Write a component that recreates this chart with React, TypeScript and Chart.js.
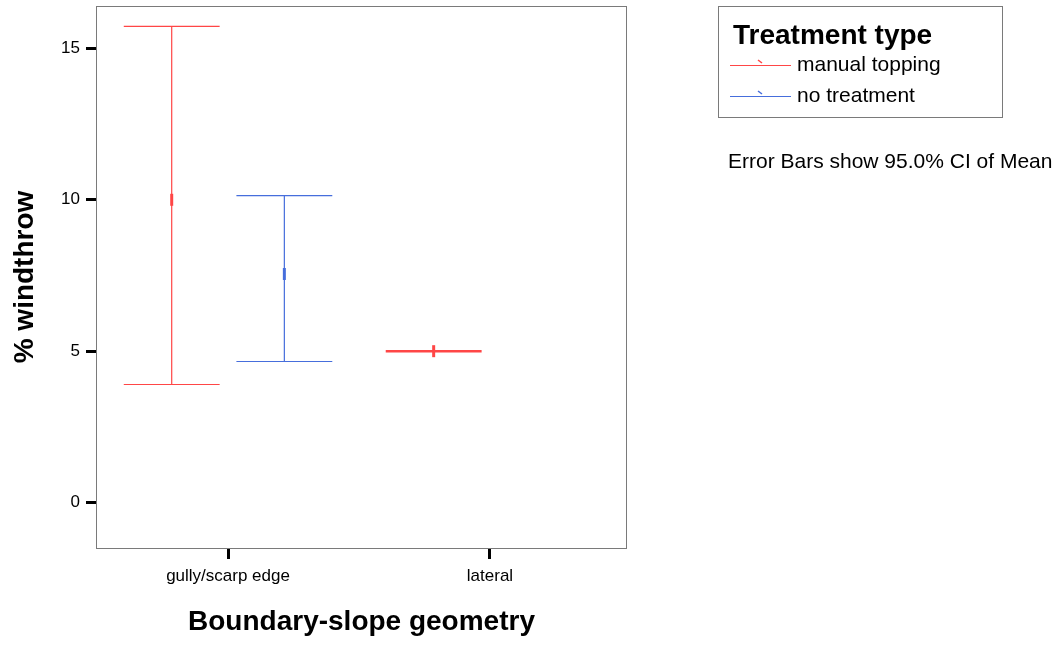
import React, { useEffect, useRef } from "react";
import { Chart, registerables } from "chart.js";

Chart.register(...registerables);

const categories = ["gully/scarp edge", "lateral"];
const seriesNames = ["manual topping", "no treatment"];
const seriesColors = ["rgb(255, 70, 70)", "rgb(70, 110, 220)"];
// per series, per category (null = no data)
const meanValues: (number | null)[][] = [
  [10.0, 5.0],
  [7.55, null],
];
const lowerValues: (number | null)[][] = [
  [3.9, 5.0],
  [4.66, null],
];
const upperValues: (number | null)[][] = [
  [15.73, 5.0],
  [10.14, null],
];
const yTicks = [0, 5, 10, 15];
const seriesOffsets = [-0.215, 0.215];
const capHalfWidth = 0.183;

const FONT = "'Liberation Sans', Arial, sans-serif";

export default function App() {
  const ref = useRef<HTMLCanvasElement | null>(null);

  useEffect(() => {
    if (!ref.current) return;

    const errorBarPlugin = {
      id: "errorBars",
      beforeDatasetsDraw(chart: any) {
        const { ctx, scales } = chart;
        const xs = scales.x;
        const ys = scales.y;
        ctx.save();
        seriesNames.forEach((_, s) => {
          categories.forEach((_c, ci) => {
            const lo = lowerValues[s][ci];
            const hi = upperValues[s][ci];
            if (lo == null || hi == null) return;
            const xc = xs.getPixelForValue(ci + seriesOffsets[s]);
            const xl = xs.getPixelForValue(ci + seriesOffsets[s] - capHalfWidth);
            const xr = xs.getPixelForValue(ci + seriesOffsets[s] + capHalfWidth);
            const yl = ys.getPixelForValue(lo);
            const yh = ys.getPixelForValue(hi);
            ctx.strokeStyle = seriesColors[s];
            ctx.lineWidth = hi - lo === 0 ? 2.5 : 1.2;
            ctx.beginPath();
            ctx.moveTo(xc, yl);
            ctx.lineTo(xc, yh);
            ctx.moveTo(xl, yh);
            ctx.lineTo(xr, yh);
            ctx.moveTo(xl, yl);
            ctx.lineTo(xr, yl);
            ctx.stroke();
          });
        });
        ctx.restore();
      },
      afterDraw(chart: any) {
        const { ctx, chartArea } = chart;
        ctx.save();
        // plot frame
        ctx.strokeStyle = "#7a7a7a";
        ctx.lineWidth = 1;
        ctx.strokeRect(
          Math.round(chartArea.left) + 0.5,
          Math.round(chartArea.top) + 0.5,
          Math.round(chartArea.right - chartArea.left) - 1,
          Math.round(chartArea.bottom - chartArea.top)
        );
        // legend box
        ctx.strokeRect(718.5, 6.5, 284, 111);
        ctx.fillStyle = "#000";
        ctx.textBaseline = "middle";
        ctx.textAlign = "left";
        ctx.font = `bold 28px ${FONT}`;
        ctx.fillText("Treatment type", 733, 36);
        const rows = [65, 96];
        seriesNames.forEach((name, s) => {
          const y = rows[s];
          ctx.strokeStyle = seriesColors[s];
          ctx.lineWidth = 1.2;
          ctx.beginPath();
          ctx.moveTo(730, y + 0.5);
          ctx.lineTo(791, y + 0.5);
          ctx.stroke();
          ctx.lineWidth = 1.5;
          ctx.beginPath();
          ctx.moveTo(758, y - 5);
          ctx.lineTo(762, y - 2);
          ctx.stroke();
          ctx.fillStyle = "#000";
          ctx.font = `21px ${FONT}`;
          ctx.fillText(name, 797, y);
        });
        ctx.font = `21px ${FONT}`;
        ctx.fillText("Error Bars show 95.0% CI of Mean", 728, 162);
        ctx.restore();
      },
    };

    const datasets = seriesNames.map((name, s) => ({
      label: name,
      type: "scatter" as const,
      data: categories
        .map((_c, ci) =>
          meanValues[s][ci] == null
            ? null
            : { x: ci + seriesOffsets[s], y: meanValues[s][ci] as number }
        )
        .filter((d) => d !== null),
      pointStyle: "line" as const,
      rotation: 90,
      pointRadius: 6,
      borderWidth: 3,
      borderColor: seriesColors[s],
      backgroundColor: seriesColors[s],
      showLine: false,
    }));

    const chart = new Chart(ref.current, {
      type: "scatter",
      data: { datasets },
      plugins: [errorBarPlugin],
      options: {
        animation: false,
        responsive: false,
        maintainAspectRatio: false,
        layout: { autoPadding: false, padding: { top: 6, right: 436, left: 0, bottom: 0 } },
        plugins: {
          legend: { display: false },
          tooltip: { enabled: false },
        },
        scales: {
          x: {
            type: "linear",
            min: -0.504,
            max: 1.523,
            afterBuildTicks: (scale: any) => {
              scale.ticks = categories.map((_c, i) => ({ value: i }));
            },
            afterFit: (scale: any) => {
              scale.height = 97;
              scale.paddingLeft = 0;
              scale.paddingRight = 0;
              scale.paddingTop = 0;
              scale.paddingBottom = 0;
            },
            border: { display: false },
            grid: {
              display: true,
              drawOnChartArea: false,
              drawTicks: true,
              tickLength: 11,
              tickWidth: 3,
              tickColor: "#000",
            },
            ticks: {
              callback: (v: any) => categories[Math.round(Number(v))] ?? "",
              font: { family: FONT, size: 17 },
              color: "#000",
              padding: 7,
              maxRotation: 0,
              autoSkip: false,
            },
            title: {
              display: true,
              text: "Boundary-slope geometry",
              font: { family: FONT, size: 28, weight: "bold" },
              color: "#000",
              padding: { top: 0, bottom: 6 },
            },
          },
          y: {
            type: "linear",
            min: -1.5,
            max: 16.4,
            afterBuildTicks: (scale: any) => {
              scale.ticks = yTicks.map((v) => ({ value: v }));
            },
            afterFit: (scale: any) => {
              scale.width = 96;
              scale.paddingTop = 0;
              scale.paddingBottom = 0;
              scale.paddingLeft = 0;
              scale.paddingRight = 0;
            },
            border: { display: false },
            grid: {
              display: true,
              drawOnChartArea: false,
              drawTicks: true,
              tickLength: 10,
              tickWidth: 3,
              tickColor: "#000",
            },
            ticks: {
              font: { family: FONT, size: 17 },
              color: "#000",
              padding: 6,
            },
            title: {
              display: true,
              text: "% windthrow",
              font: { family: FONT, size: 28, weight: "bold" },
              color: "#000",
              padding: { top: 8, bottom: 0 },
            },
          },
        },
      },
    });

    return () => chart.destroy();
  }, []);

  return (
    <div style={{ position: "absolute", left: 0, top: 0, width: 1063, height: 645, background: "#fff" }}>
      <canvas ref={ref} width={1063} height={645} style={{ width: 1063, height: 645 }} />
    </div>
  );
}
